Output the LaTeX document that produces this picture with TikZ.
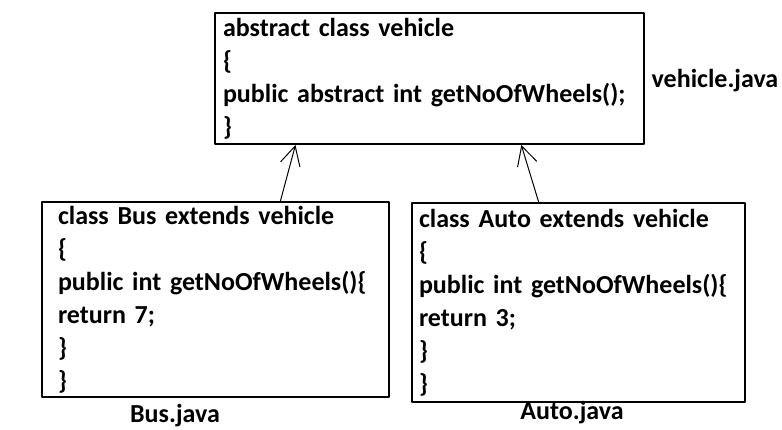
\documentclass[tikz,border=0pt]{standalone}
\usepackage{fontspec}
\setmainfont{Carlito}
\usepackage{tikz}
\usetikzlibrary{arrows.meta,calc}

\begin{document}
\begin{tikzpicture}[x=1pt,y=-1pt,>={Straight Barb[length=19pt,width=20pt]},line join=round,
  codebox/.style={draw,line width=2pt,anchor=north west,align=left,inner ysep=0pt,
    font=\fontsize{26}{33}\selectfont\bfseries},
  filename/.style={font=\fontsize{26}{28}\selectfont\bfseries,inner sep=0pt}]
  \useasboundingbox (0,0) rectangle (782,430);
  \node[codebox,inner xsep=8pt,text width=413pt,minimum height=131pt] (vehicle) at (214,12)
    {abstract class vehicle\\ \{\\ public abstract int getNoOfWheels();\\ \}};
  \node[codebox,inner xsep=16pt,text width=315pt,minimum height=195pt] (bus) at (41,201)
    {class Bus extends vehicle\\ \{\\ public int getNoOfWheels()\{\\ return 7;\\ \}\\ \}};
  \node[codebox,inner xsep=7pt,text width=319pt,minimum height=199pt] (auto) at (411,202)
    {class Auto extends vehicle\\ \{\\ public int getNoOfWheels()\{\\ return 3;\\ \}\\ \}};
  \node[filename] (vehiclefile) at (715,81) {vehicle.java};
  \node[filename] (busfile) at (175,416) {Bus.java};
  \node[filename] (autofile) at (572,413) {Auto.java};
  \draw[->,line width=1pt] ($(bus.north west)!0.686!(bus.north east)$) -- ($(vehicle.south west)!0.189!(vehicle.south east)$);
  \draw[->,line width=1pt] ($(auto.north west)!0.381!(auto.north east)$) -- ($(vehicle.south west)!0.713!(vehicle.south east)$);
\end{tikzpicture}
\end{document}
